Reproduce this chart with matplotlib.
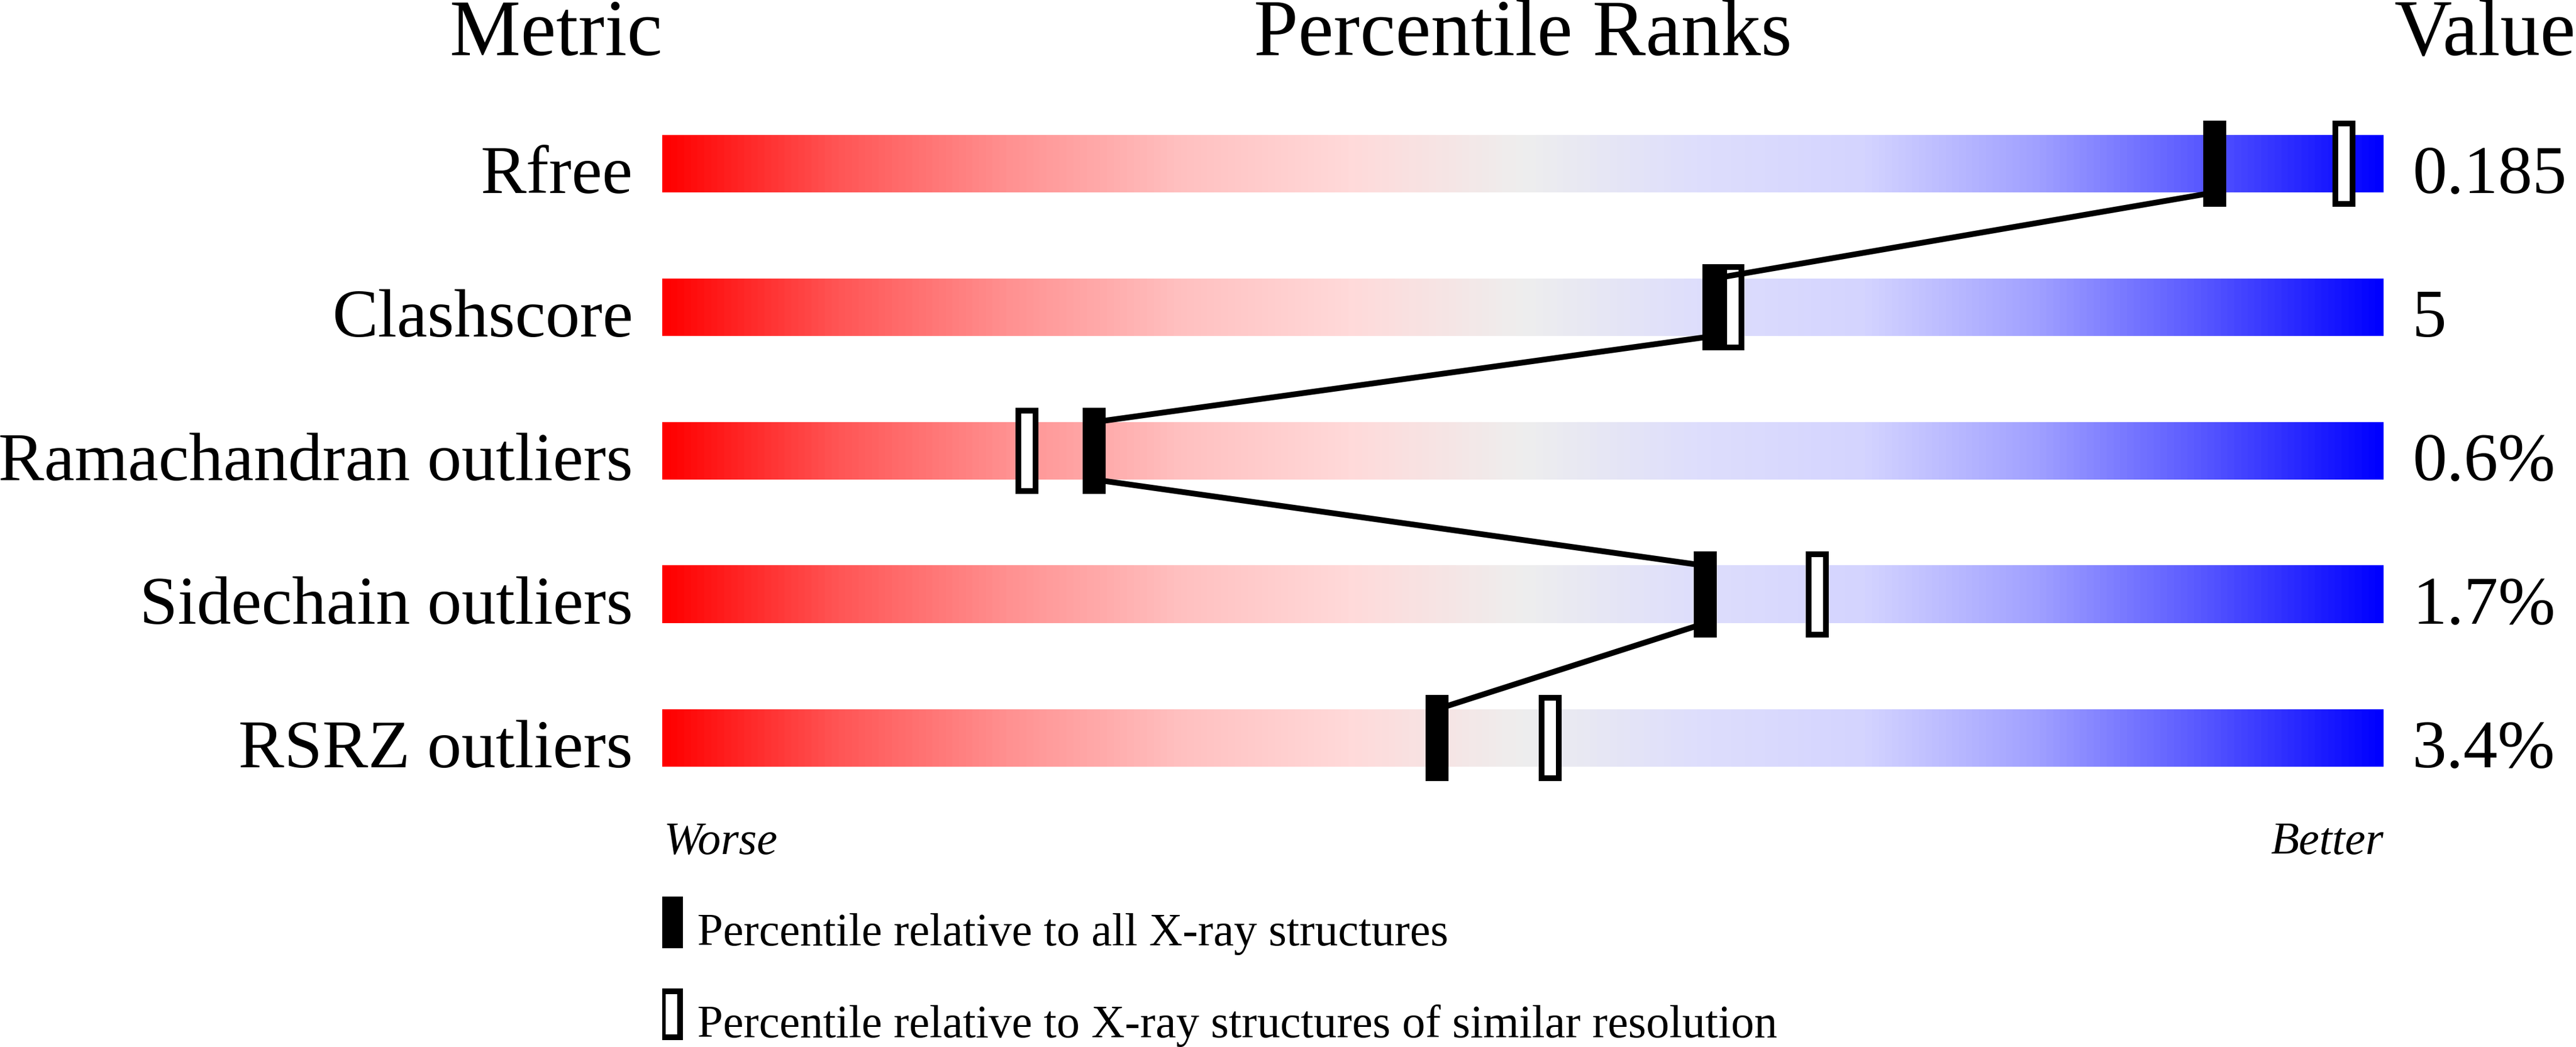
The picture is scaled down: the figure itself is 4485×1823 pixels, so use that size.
import matplotlib
matplotlib.use("Agg")
import matplotlib.pyplot as plt
import numpy as np
from matplotlib.colors import LinearSegmentedColormap

# chart data
metrics = ["Rfree", "Clashscore", "Ramachandran outliers", "Sidechain outliers", "RSRZ outliers"]
values = ["0.185", "5", "0.6%", "1.7%", "3.4%"]
pct_all = [90.2, 61.1, 25.1, 60.6, 45.0]       # percentile vs all X-ray structures
pct_similar = [97.7, 62.2, 21.2, 67.1, 51.6]   # percentile vs similar resolution
legend_labels = ["Percentile relative to all X-ray structures",
                 "Percentile relative to X-ray structures of similar resolution"]

FONT = "Liberation Serif"
W, H = 4485, 1824
BAR_L, BAR_R = 1153, 4150
PX = (BAR_R - BAR_L) / 100.0     # pixels per percentile unit
ROW0, ROWSTEP = 286, 250         # pixel centre of first row, row spacing

# red -> grey -> blue slider
stops = [(0.0, (255, 0, 0)), (0.1, (255, 85, 85)), (0.2, (255, 145, 145)),
         (0.3, (255, 192, 192)), (0.4, (255, 218, 218)), (0.5, (238, 238, 238)),
         (0.6, (222, 222, 252)), (0.7, (212, 212, 255)), (0.8, (160, 160, 255)),
         (0.9, (85, 85, 255)), (1.0, (0, 0, 255))]
cmap = LinearSegmentedColormap.from_list(
    "slider", [(p, tuple(c / 255 for c in rgb)) for p, rgb in stops])

fig = plt.figure(figsize=(W / 100, H / 100), dpi=100)
ax = fig.add_axes([BAR_L / W, 0, (BAR_R - BAR_L) / W, 1])
ax.axis("off")

grad = np.linspace(0, 1, 512).reshape(1, -1)
mw = 40 / PX          # marker width
iw = 20 / PX          # inner width of the open marker
for i in range(len(metrics)):
    ax.imshow(grad, extent=(0, 100, i + 0.2, i - 0.2), aspect="auto",
              cmap=cmap, interpolation="bilinear", zorder=1)
    # open marker
    ax.bar(pct_similar[i], 0.6, width=mw, bottom=i - 0.3, color="black", zorder=2)
    ax.bar(pct_similar[i], 0.52, width=iw, bottom=i - 0.26, color="white", zorder=2.1)
    ax.text(-1.7, i + 0.2, metrics[i], ha="right", va="baseline",
            fontsize=86, family=FONT)
    ax.text(101.67, i + 0.2, values[i], ha="left", va="baseline",
            fontsize=86, family=FONT)

# connecting line between the filled markers
lx, ly = [], []
for i, p in enumerate(pct_all):
    lx += [p, p]
    ly += [i - 0.2, i + 0.2]
ax.plot(lx[1:-1], ly[1:-1], color="black", lw=7.2, solid_capstyle="butt",
        zorder=3)
ax.bar(pct_all, 0.6, width=mw, bottom=np.arange(len(pct_all)) - 0.3,
       color="black", zorder=4)

# headers
hy = -0.76
ax.text(0, hy, "Metric", ha="right", va="baseline", fontsize=100, family=FONT)
ax.text(50, hy, "Percentile Ranks", ha="center", va="baseline", fontsize=100, family=FONT)
ax.text((W - BAR_L) / PX, hy, "Value", ha="right", va="baseline", fontsize=100, family=FONT)

# worse / better
ax.text(0.1, 4.804, "Worse", ha="left", va="baseline", fontsize=58,
        family=FONT, style="italic")
ax.text(100, 4.804, "Better", ha="right", va="baseline", fontsize=58,
        family=FONT, style="italic")

# legend
lg_x = 0.52
ax.bar(lg_x, 0.36, width=mw, bottom=5.282 - 0.18, color="black")
ax.bar(lg_x, 0.36, width=mw, bottom=5.924 - 0.18, color="black")
ax.bar(lg_x, 0.28, width=iw, bottom=5.924 - 0.14, color="white", zorder=2.1)
ax.text(2.04, 5.44, legend_labels[0], ha="left", va="baseline", fontsize=58, family=FONT)
ax.text(2.04, 6.08, legend_labels[1], ha="left", va="baseline", fontsize=58, family=FONT)

ax.set_xlim(0, 100)
ax.set_ylim((H - ROW0) / ROWSTEP, -ROW0 / ROWSTEP)

fig.savefig("out.png", dpi=100)
